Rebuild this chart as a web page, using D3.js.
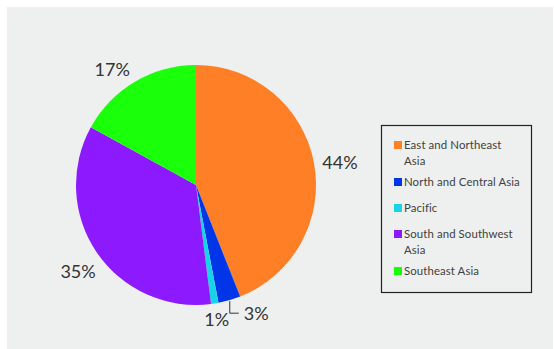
<!DOCTYPE html>
<html>
<head>
<meta charset="utf-8">
<script src="https://cdn.jsdelivr.net/npm/d3@7"></script>
<style>
  html, body { margin: 0; padding: 0; background: #ffffff; }
  svg { display: block; }
  text { font-family: Lato, "Open Sans", sans-serif; }
</style>
</head>
<body>
<svg id="chart" width="554" height="349"></svg>
<script>
// Regions and their share of the total (percent)
const categories = [
  "East and Northeast Asia",
  "North and Central Asia",
  "Pacific",
  "South and Southwest Asia",
  "Southeast Asia"
];
const shares = [44, 3, 1, 35, 17];
const colors = ["#ff7f27", "#0036e8", "#18d4e8", "#8d1aff", "#1aff0a"];
// Legend text, broken over lines as it is set in the box
const legendLines = [
  ["East and Northeast", "Asia"],
  ["North and Central Asia"],
  ["Pacific"],
  ["South and Southwest", "Asia"],
  ["Southeast Asia"]
];

const W = 554, H = 349;
const svg = d3.select("#chart");

// panel
svg.append("rect")
  .attr("x", 7).attr("y", 7)
  .attr("width", W - 8).attr("height", H - 7)
  .attr("fill", "#eef0ef");

const cx = 196, cy = 185, R = 120;
const g = svg.append("g").attr("transform", `translate(${cx},${cy})`);

const data = categories.map((c, i) => ({ name: c, value: shares[i], color: colors[i] }));

const pie = d3.pie().value(d => d.value).sort(null).startAngle(0).endAngle(2 * Math.PI);
const arcs = pie(data);
const arc = d3.arc().innerRadius(0).outerRadius(R);

g.selectAll("path.slice")
  .data(arcs)
  .join("path")
  .attr("class", "slice")
  .attr("d", arc)
  .attr("fill", d => d.data.color);

// percentage labels placed around the slices
const labelLayout = [
  { r: 145, dx: 1.5, dy: 4.5 },
  { leader: true },
  { r: 136, dx: -0.5, dy: 0 },
  { r: 145, dx: 2, dy: 4.5 },
  { r: 145, dx: -10, dy: 9 }
];
const polar = (a, r) => [r * Math.sin(a), -r * Math.cos(a)];

arcs.forEach((d, i) => {
  const mid = (d.startAngle + d.endAngle) / 2;
  const L = labelLayout[i];
  const txt = d.data.value + "%";
  if (L.leader) {
    const [sx, sy] = polar(mid, R + 1);
    const path = d3.path();
    path.moveTo(sx, sy);
    path.lineTo(sx, sy + 12);
    path.lineTo(sx + 9, sy + 12);
    g.append("path").attr("d", path.toString())
      .attr("fill", "none").attr("stroke", "#333").attr("stroke-width", 1);
    g.append("text")
      .attr("x", sx + 14).attr("y", sy + 12)
      .attr("dominant-baseline", "central")
      .attr("font-size", 18).attr("fill", "#333")
      .text(txt);
  } else {
    const [x, y] = polar(mid, L.r);
    g.append("text")
      .attr("x", x + L.dx).attr("y", y + L.dy)
      .attr("text-anchor", "middle")
      .attr("dominant-baseline", "central")
      .attr("font-size", 18).attr("fill", "#333")
      .text(txt);
  }
});

// legend
const lg = svg.append("g");
lg.append("rect")
  .attr("x", 381.5).attr("y", 125.5)
  .attr("width", 150).attr("height", 167)
  .attr("fill", "none").attr("stroke", "#222").attr("stroke-width", 1.2);

let rowY = 141;
data.forEach((d, i) => {
  const lines = legendLines[i];
  lg.append("rect")
    .attr("x", 394).attr("y", rowY)
    .attr("width", 8).attr("height", 8)
    .attr("fill", d.color);
  const t = lg.append("text")
    .attr("x", 404).attr("y", rowY + 8)
    .attr("font-size", 11.4).attr("letter-spacing", 0.1).attr("fill", "#404040");
  lines.forEach((ln, j) => {
    t.append("tspan").attr("x", 404).attr("dy", j === 0 ? 0 : 15.5).text(ln);
  });
  rowY += 26 + 11 * (lines.length - 1);
});
</script>
</body>
</html>
